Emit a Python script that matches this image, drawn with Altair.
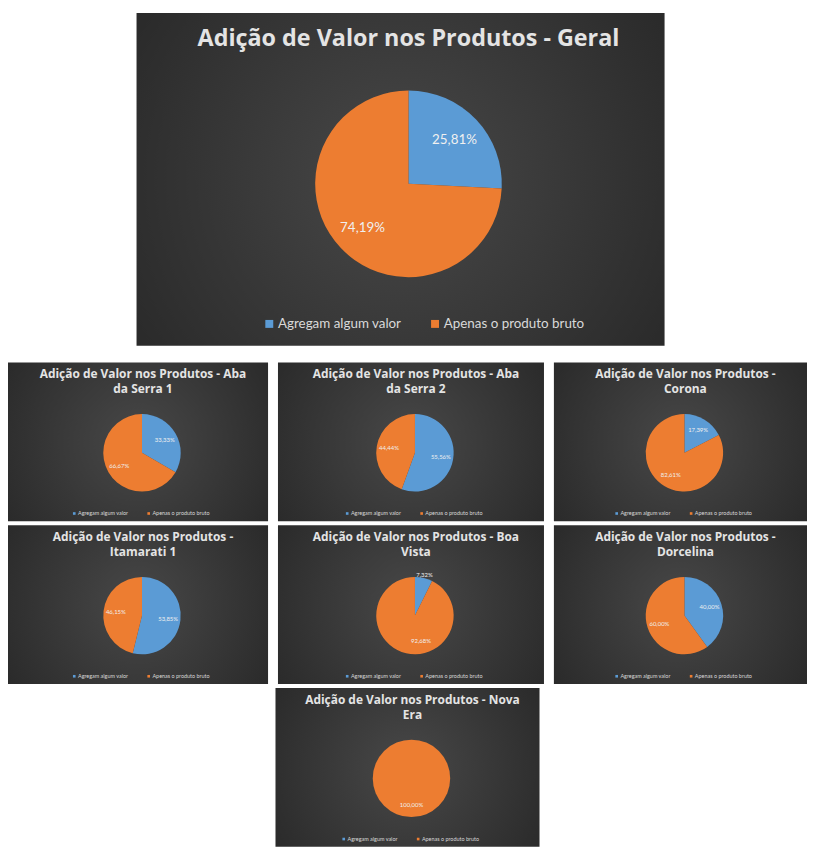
import altair as alt
import pandas as pd

categories = ["Agregam algum valor", "Apenas o produto bruto"]
palette = ["#5B9BD5", "#ED7D31"]
panel_titles = [
    ["Adição de Valor nos Produtos - Geral"],
    ["Adição de Valor nos Produtos - Aba", "da Serra 1"],
    ["Adição de Valor nos Produtos - Aba", "da Serra 2"],
    ["Adição de Valor nos Produtos -", "Corona"],
    ["Adição de Valor nos Produtos -", "Itamarati 1"],
    ["Adição de Valor nos Produtos - Boa", "Vista"],
    ["Adição de Valor nos Produtos -", "Dorcelina"],
    ["Adição de Valor nos Produtos - Nova", "Era"],
]
agregam = [25.81, 33.33, 55.56, 17.39, 53.85, 7.32, 40.00, 0.00]
apenas = [74.19, 66.67, 44.44, 82.61, 46.15, 92.68, 60.00, 100.00]

BG = {
    "gradient": "radial",
    "x1": 0.5, "y1": 0.5, "r1": 0,
    "x2": 0.5, "y2": 0.5, "r2": 0.75,
    "stops": [
        {"offset": 0, "color": "#484848"},
        {"offset": 1, "color": "#222222"},
    ],
}


def panel(i, W, H, big):
    if big:
        p = dict(ts=23.5, tx=W / 2 + 8, ty=14, lh=28, cx=274, cy=172, R=94, lf=13.5,
                 lx=127, ly=306, lfs=13.5, ss=64, cp=27, lo=2)
    else:
        p = dict(ts=12, tx=W / 2 + 5, ty=7, lh=15, cx=W / 2 + 4, cy=91, R=39, lf=6,
                 lx=W / 2 - 67, ly=149, lfs=5.5, ss=7, cp=17, lo=1)
    df = pd.DataFrame({
        "categoria": categories,
        "valor": [agregam[i], apenas[i]],
        "ordem": [0, 1],
    })
    df["rotulo"] = [f"{v:.2f}%".replace(".", ",") for v in df["valor"]]
    df["raio"] = [p["R"] * (1.08 if v < 10 else 0.68) for v in df["valor"]]

    one = pd.DataFrame({"z": [0]})
    bg = alt.Chart(one).mark_rect(color=BG).encode(
        x=alt.value(0), x2=alt.value(W), y=alt.value(0), y2=alt.value(H)
    )
    title = alt.Chart(one).mark_text(
        text=panel_titles[i], font="Open Sans", fontWeight="bold", fontSize=p["ts"],
        color="#e4e4e4", baseline="top", align="center", lineHeight=p["lh"],
    ).encode(x=alt.value(p["tx"]), y=alt.value(p["ty"]))

    base = alt.Chart(df).encode(
        theta=alt.Theta("valor:Q", stack=True),
        order=alt.Order("ordem:Q"),
    )
    arc = base.mark_arc(outerRadius=p["R"]).encode(
        x=alt.value(p["cx"]), y=alt.value(p["cy"]),
        color=alt.Color(
            "categoria:N",
            scale=alt.Scale(domain=categories, range=palette),
            legend=alt.Legend(
                orient="none", legendX=p["lx"], legendY=p["ly"],
                direction="horizontal", title=None, symbolType="square",
                symbolSize=p["ss"], symbolStrokeWidth=0,
                labelColor="#d9d9d9", labelFont="Lato",
                labelFontSize=p["lfs"], columnPadding=p["cp"],
                labelOffset=p["lo"], symbolOffset=0,
            ),
        ),
    )
    labels = base.transform_filter("datum.valor > 0").mark_text(
        font="Lato", fontSize=p["lf"], color="#f0f0f0"
    ).encode(
        x=alt.value(p["cx"]), y=alt.value(p["cy"]),
        radius=alt.Radius("raio:Q", scale=None),
        text="rotulo:N",
    )
    return alt.layer(bg, title, arc, labels).properties(width=W, height=H)


def indep(c):
    return c.resolve_scale(color="independent", theta="independent").resolve_legend(color="independent")


one = pd.DataFrame({"z": [0]})
spacer = alt.Chart(one).mark_rect(opacity=0).encode(
    x=alt.value(0), x2=alt.value(1), y=alt.value(0), y2=alt.value(1)
).properties(width=14, height=335)

main = indep(alt.hconcat(panel(0, 532, 335, True), spacer, spacing=0))
row1 = indep(alt.hconcat(panel(1, 262, 160, False), panel(2, 268, 160, False),
                         panel(3, 255, 160, False), spacing=10))
row2 = indep(alt.hconcat(panel(4, 262, 160, False), panel(5, 268, 160, False),
                         panel(6, 255, 160, False), spacing=10))
row3 = panel(7, 266, 160, False)
small = indep(alt.vconcat(row1, row2, row3, spacing=4, center=True))
chart = indep(alt.vconcat(main, small, spacing=17, center=True)).properties(
    padding={"left": 0, "top": 2, "right": 0, "bottom": 0}
).configure_view(stroke=None)

chart.save("out.html", embed_options={"renderer": "svg", "actions": False})
